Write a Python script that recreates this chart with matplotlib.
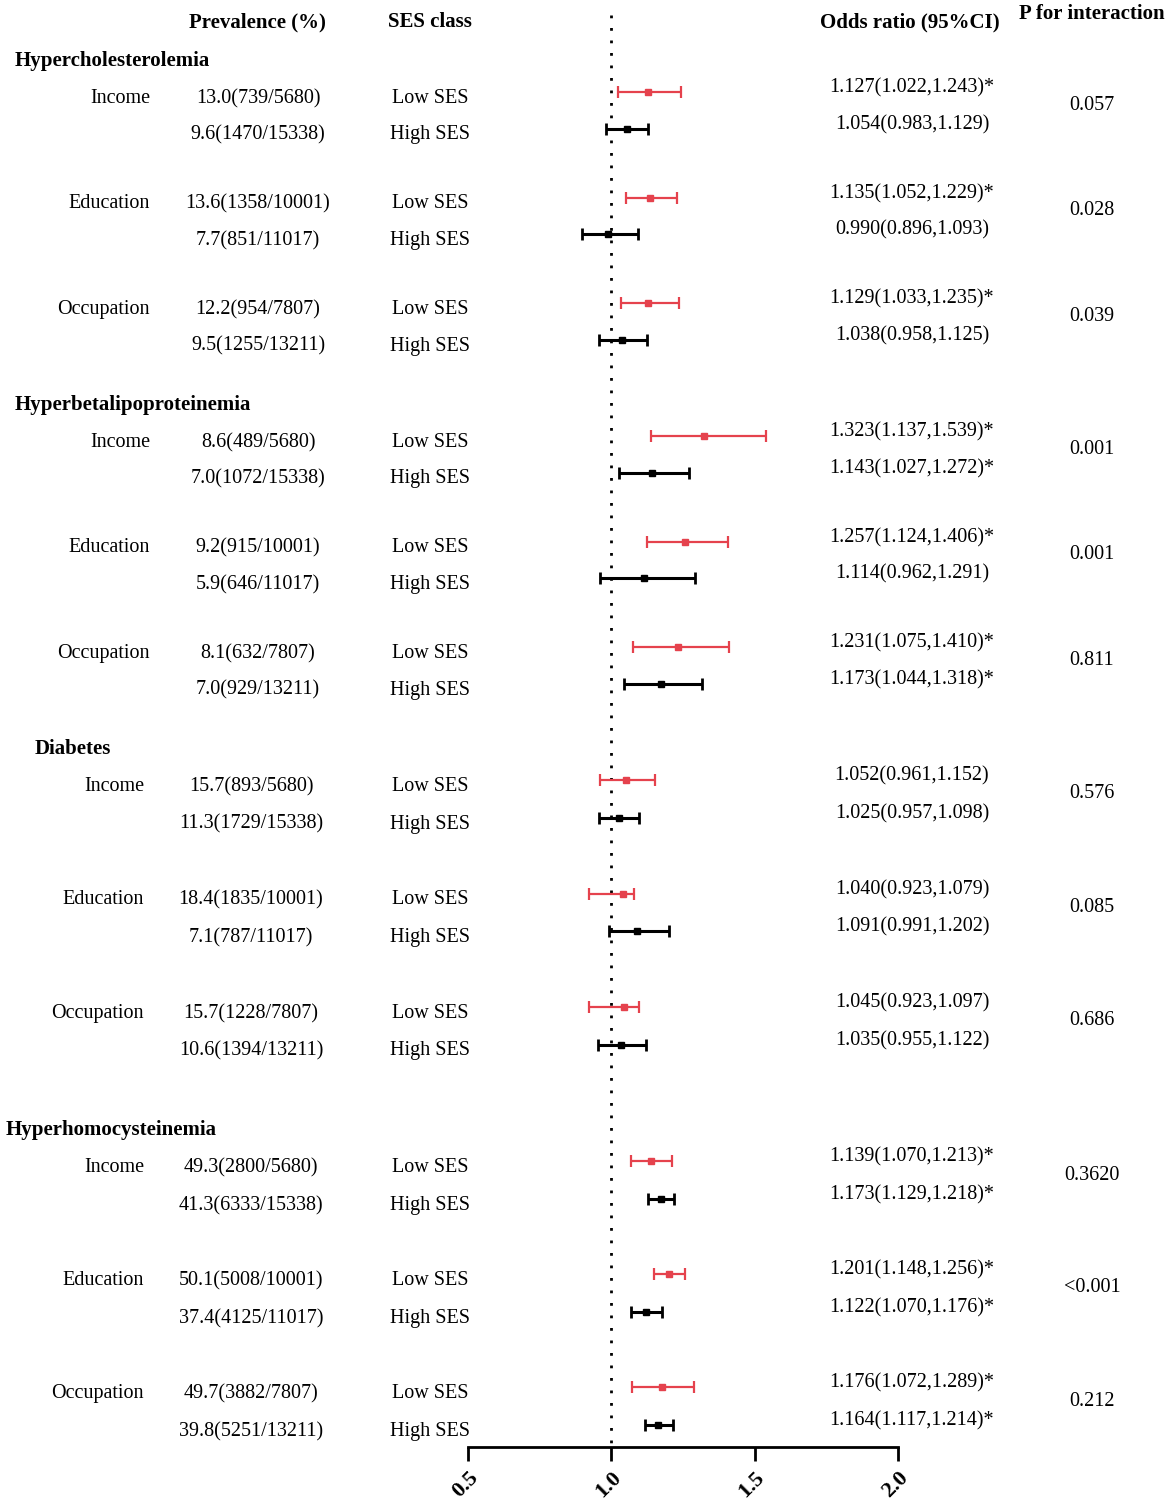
import matplotlib
matplotlib.use("Agg")
import matplotlib.pyplot as plt
import matplotlib.transforms as mtransforms
import numpy as np

plt.rcParams['font.family'] = ['Liberation Serif', 'DejaVu Serif']

# ---- data ----
groups = ["Hypercholesterolemia", "Hyperbetalipoproteinemia", "Diabetes", "Hyperhomocysteinemia"]
ses_types = ["Income", "Education", "Occupation"]

# prevalence (%), cases, totals -- one entry per group x ses type
prev_low_pct = [13.0, 13.6, 12.2, 8.6, 9.2, 8.1, 15.7, 18.4, 15.7, 49.3, 50.1, 49.7]
prev_low_n = [739, 1358, 954, 489, 915, 632, 893, 1835, 1228, 2800, 5008, 3882]
prev_low_tot = [5680, 10001, 7807, 5680, 10001, 7807, 5680, 10001, 7807, 5680, 10001, 7807]
prev_high_pct = [9.6, 7.7, 9.5, 7.0, 5.9, 7.0, 11.3, 7.1, 10.6, 41.3, 37.4, 39.8]
prev_high_n = [1470, 851, 1255, 1072, 646, 929, 1729, 787, 1394, 6333, 4125, 5251]
prev_high_tot = [15338, 11017, 13211, 15338, 11017, 13211, 15338, 11017, 13211, 15338, 11017, 13211]

or_low = [1.127, 1.135, 1.129, 1.323, 1.257, 1.231, 1.052, 1.040, 1.045, 1.139, 1.201, 1.176]
lo_low = [1.022, 1.052, 1.033, 1.137, 1.124, 1.075, 0.961, 0.923, 0.923, 1.070, 1.148, 1.072]
hi_low = [1.243, 1.229, 1.235, 1.539, 1.406, 1.410, 1.152, 1.079, 1.097, 1.213, 1.256, 1.289]
or_high = [1.054, 0.990, 1.038, 1.143, 1.114, 1.173, 1.025, 1.091, 1.035, 1.173, 1.122, 1.164]
lo_high = [0.983, 0.896, 0.958, 1.027, 0.962, 1.044, 0.957, 0.991, 0.955, 1.129, 1.070, 1.117]
hi_high = [1.129, 1.093, 1.125, 1.272, 1.291, 1.318, 1.098, 1.202, 1.122, 1.218, 1.176, 1.214]

p_interaction = ["0.057", "0.028", "0.039", "0.001", "0.001", "0.811",
                 "0.576", "0.085", "0.686", "0.3620", "<0.001", "0.212"]

xticks = [0.5, 1.0, 1.5, 2.0]

# ---- layout (pixel rows of the 1170x1501 canvas) ----
W, H = 1170, 1501
axis_y = 1447
title_y = [60, 404, 748, 1129]
sub_step = [105.5, 105.5, 113.5, 113]
pair_gap = [36.5, 36.5, 37.5, 38]
title_x = [15, 15, 35, 6]
label_right = [150, 150, 144, 144]
prev_cx = [258, 258, 251, 251]
ses_cx = 430
or_cx = 912
p_cx = 1092
red = '#e5424d'
fs = 14.5
fs_b = 15

fig = plt.figure(figsize=(W / 100, H / 100), dpi=100)
ax = fig.add_axes([468 / W, (H - axis_y) / H, 430 / W, axis_y / H])
ax.set_xlim(0.5, 2.0)
ax.set_ylim(axis_y, 0)
for s in ['top', 'right', 'left']:
    ax.spines[s].set_visible(False)
ax.spines['bottom'].set_linewidth(2)
ax.set_yticks([])
ax.set_xticks(xticks)
ax.set_xticklabels([f"{t:.1f}" for t in xticks], rotation=45, ha='right',
                   rotation_mode='anchor', fontsize=16, fontweight='bold')
ax.tick_params(axis='x', length=10, width=2, pad=5)

ax.plot([1.0, 1.0], [15, axis_y], color='black', lw=2, linestyle=(0, (1, 3.5)), zorder=1)

tr = mtransforms.blended_transform_factory(fig.transFigure, ax.transData)


def fx(px):
    return px / W


# headers
hy = 22
hdr_kw = dict(transform=tr, fontsize=fs_b, fontweight='bold', va='center', ha='center')
ax.text(fx(257), hy, "Prevalence (%)", **hdr_kw)
ax.text(fx(ses_cx), hy, "SES class", **hdr_kw)
ax.text(fx(910), hy, "Odds ratio (95%CI)", **hdr_kw)
ax.text(fx(p_cx), hy - 8, "P for interaction", **hdr_kw)


def or_text(o, l, h):
    star = "*" if l > 1 else ""
    return f"{o:.3f}({l:.3f},{h:.3f}){star}"


for g, gname in enumerate(groups):
    ax.text(fx(title_x[g]), title_y[g] + 1, gname, transform=tr, fontsize=fs_b,
            fontweight='bold', ha='left', va='center')
    for k, sname in enumerate(ses_types):
        i = g * 3 + k
        y1 = title_y[g] + 36 + k * sub_step[g]
        y2 = y1 + pair_gap[g]
        ty1, ty2 = y1 + 2.5, y2 + 2.5
        ax.text(fx(label_right[g]), ty1, sname, transform=tr, fontsize=fs, ha='right', va='center')
        ax.text(fx(prev_cx[g]), ty1, f"{prev_low_pct[i]:.1f}({prev_low_n[i]}/{prev_low_tot[i]})",
                transform=tr, fontsize=fs, ha='center', va='center')
        ax.text(fx(prev_cx[g]), ty2, f"{prev_high_pct[i]:.1f}({prev_high_n[i]}/{prev_high_tot[i]})",
                transform=tr, fontsize=fs, ha='center', va='center')
        ax.text(fx(ses_cx), ty1, "Low SES", transform=tr, fontsize=fs, ha='center', va='center')
        ax.text(fx(ses_cx), ty2, "High SES", transform=tr, fontsize=fs, ha='center', va='center')

        # forest marks
        ax.errorbar(or_low[i], y1 - 4, xerr=[[or_low[i] - lo_low[i]], [hi_low[i] - or_low[i]]],
                    fmt='s', color=red, ms=4, lw=1.6, capsize=4, capthick=1.6)
        ax.errorbar(or_high[i], y2 - 4, xerr=[[or_high[i] - lo_high[i]], [hi_high[i] - or_high[i]]],
                    fmt='s', color='black', ms=4, lw=2.2, capsize=4, capthick=2)

        ax.text(fx(or_cx), y1 - 8, or_text(or_low[i], lo_low[i], hi_low[i]),
                transform=tr, fontsize=fs, ha='center', va='center')
        ax.text(fx(or_cx), y2 - 8, or_text(or_high[i], lo_high[i], hi_high[i]),
                transform=tr, fontsize=fs, ha='center', va='center')
        ax.text(fx(p_cx), (y1 + y2) / 2 - 9, p_interaction[i],
                transform=tr, fontsize=fs, ha='center', va='center')

fig.savefig("out.png", dpi=100)
